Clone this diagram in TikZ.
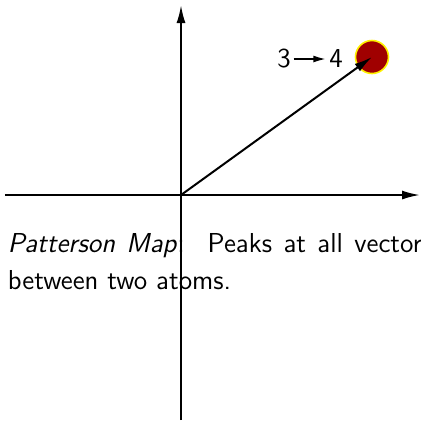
\documentclass[tikz,border=0pt]{standalone}
\usetikzlibrary{arrows.meta}
\definecolor{peakred}{RGB}{160,0,0}
\begin{document}
\begin{tikzpicture}[x=0.5pt, y=0.5pt, line width=1pt,
  every node/.style={font=\sffamily\fontsize{13.7}{18.5}\selectfont},
  >={Latex[length=9pt,width=4.5pt]}]
  \useasboundingbox (-181,-225) rectangle (240,195);
  % axes, origin where they cross
  \coordinate (O) at (0,0);
  \coordinate (ybot) at (0,-225); \coordinate (ytop) at (0,190);
  \coordinate (xleft) at (-176,0); \coordinate (xright) at (239,0);
  \draw[->] (ybot) -- (ytop);
  \draw[->] (xleft) -- (xright);
  % the peak and the vector that points at it
  \node[circle, fill=peakred, draw=yellow, line width=0.8pt, minimum size=16.5pt, inner sep=0] (peak) at (191,138) {};
  \draw[->] (O) -- (peak.center);
  \node[inner sep=1pt] (three) at (103,136) {3};
  \node[inner sep=1pt] (four) at (155,136) {4};
  \draw[->, >={Latex[length=6.5pt,width=3.5pt]}] (three) -- (four);
  \node[anchor=north west, text width=207pt, align=justify, inner sep=0] (caption) at (-174,-37)
    {\textit{Patterson Map}:\ \ Peaks at all vector\linebreak between two atoms.};
\end{tikzpicture}
\end{document}
